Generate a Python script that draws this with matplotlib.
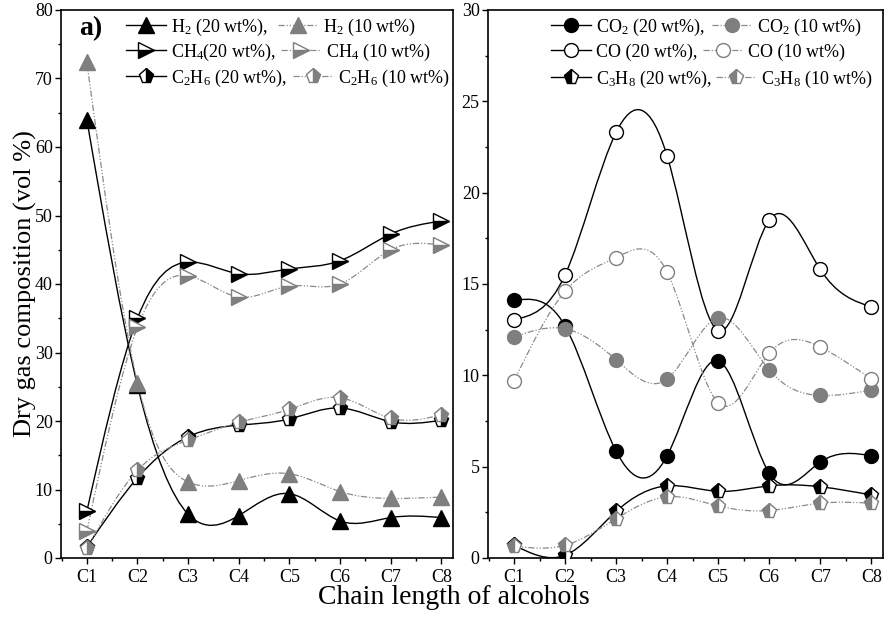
import matplotlib
matplotlib.use("Agg")
import matplotlib.pyplot as plt
import numpy as np
from matplotlib.legend import Legend
from matplotlib.lines import Line2D
from matplotlib.patches import PathPatch
from matplotlib.path import Path
from matplotlib.ticker import MultipleLocator

plt.rcParams["font.family"] = ["Liberation Serif", "DejaVu Serif"]
plt.rcParams["mathtext.fontset"] = "custom"
plt.rcParams["mathtext.rm"] = "Liberation Serif"
plt.rcParams["mathtext.it"] = "Liberation Serif:italic"
plt.rcParams["mathtext.bf"] = "Liberation Serif:bold"

# --- data (vol %) ---
alcohols = ["C1", "C2", "C3", "C4", "C5", "C6", "C7", "C8"]
chain = [1, 2, 3, 4, 5, 6, 7, 8]

h2_20 = [64.0, 25.2, 6.4, 6.2, 9.4, 5.4, 5.9, 5.9]
h2_10 = [72.4, 25.6, 11.1, 11.3, 12.3, 9.7, 8.7, 8.9]
ch4_20 = [6.8, 35.0, 43.2, 41.5, 42.2, 43.4, 47.3, 49.2]
ch4_10 = [3.9, 33.7, 41.2, 38.1, 39.7, 40.0, 45.0, 45.7]
c2h6_20 = [1.6, 11.7, 17.7, 19.4, 20.3, 21.9, 19.9, 20.1]
c2h6_10 = [1.4, 12.8, 17.2, 19.8, 21.7, 23.4, 20.4, 20.9]

co2_20 = [14.1, 12.7, 5.85, 5.6, 10.8, 4.65, 5.25, 5.6]
co2_10 = [12.1, 12.55, 10.85, 9.8, 13.15, 10.3, 8.9, 9.2]
co_20 = [13.05, 15.5, 23.3, 22.0, 12.45, 18.5, 15.8, 13.75]
co_10 = [9.7, 14.6, 16.45, 15.65, 8.5, 11.2, 11.55, 9.8]
c3h8_20 = [0.7, 0.15, 2.55, 3.95, 3.65, 3.95, 3.9, 3.45]
c3h8_10 = [0.65, 0.7, 2.15, 3.35, 2.85, 2.6, 3.0, 3.0]

GRAY = "#7f7f7f"
LINE_GRAY = "#8a8a8a"
DASH_DOT_DOT = (0, (5, 1.5, 1, 1.5, 1, 1.5))


def spline_path(x, y):
    """natural cubic spline through the points, as bezier segments (unit spacing)"""
    x = np.asarray(x, dtype=float)
    y = np.asarray(y, dtype=float)
    n = len(y)
    A = np.zeros((n, n))
    b = np.zeros(n)
    A[0, 0] = A[-1, -1] = 1.0
    for i in range(1, n - 1):
        A[i, i - 1:i + 2] = [1.0, 4.0, 1.0]
        b[i] = 6.0 * (y[i + 1] - 2 * y[i] + y[i - 1])
    m = np.linalg.solve(A, b)
    d = np.empty(n)
    d[:-1] = np.diff(y) - (2 * m[:-1] + m[1:]) / 6.0
    d[-1] = y[-1] - y[-2] + (m[-2] + 2 * m[-1]) / 6.0
    verts = [(x[0], y[0])]
    codes = [Path.MOVETO]
    for i in range(n - 1):
        verts += [(x[i] + 1 / 3, y[i] + d[i] / 3),
                  (x[i + 1] - 1 / 3, y[i + 1] - d[i + 1] / 3),
                  (x[i + 1], y[i + 1])]
        codes += [Path.CURVE4] * 3
    return Path(verts, codes)


def draw(ax, y, marker, fill, dark, ms=10, open_face=False):
    col = "black" if dark else GRAY
    lcol = "black" if dark else LINE_GRAY
    ls = "-" if dark else DASH_DOT_DOT
    lw = 1.0 if dark else 0.9
    ax.add_patch(PathPatch(spline_path(chain, y), fill=False, edgecolor=lcol,
                           lw=lw, ls=ls, zorder=2))
    style = dict(marker=marker, ms=ms, mec=col, mew=1.0)
    if open_face:
        style.update(mfc="white")
    else:
        style.update(fillstyle=fill, mfc=col, mfcalt="white")
    ax.plot(chain, y, ls="none", zorder=3, **style)
    return Line2D([], [], color=lcol, ls=ls, lw=lw, **style)


def row_legends(ax, handles, labels, x0, rows_y, gaps):
    # one legend per row, so that the second entry follows its own label
    for i, (yy, gap) in enumerate(zip(rows_y, gaps)):
        leg = Legend(ax, [handles[i], handles[i + 3]], [labels[i], labels[i + 3]],
                     ncol=2, loc="center left", bbox_to_anchor=(x0, yy),
                     frameon=False, fontsize=13, handlelength=2.2,
                     handletextpad=0.3, columnspacing=gap, borderpad=0,
                     borderaxespad=0)
        ax.add_artist(leg)


fig = plt.figure(figsize=(8.84, 6.19), dpi=100)
ax1 = fig.add_axes([61 / 884, 1 - 558 / 619, 392 / 884, 548 / 619])
ax2 = fig.add_axes([488 / 884, 1 - 558 / 619, 395 / 884, 548 / 619])

# --- left panel ---
hl = [
    draw(ax1, h2_20, "^", "full", True, ms=11),
    draw(ax1, ch4_20, ">", "bottom", True, ms=11),
    draw(ax1, c2h6_20, "p", "right", True, ms=11),
    draw(ax1, h2_10, "^", "full", False, ms=11),
    draw(ax1, ch4_10, ">", "bottom", False, ms=11),
    draw(ax1, c2h6_10, "p", "right", False, ms=11),
]
labels1 = ["H$_2$ (20 wt%),", "CH$_4$(20 wt%),", "C$_2$H$_6$ (20 wt%),",
           "H$_2$ (10 wt%)", "CH$_4$ (10 wt%)", "C$_2$H$_6$ (10 wt%)"]
row_legends(ax1, hl, labels1, (126 - 61) / 392,
            [1 - 17 / 548, 1 - 42 / 548, 1 - 68 / 548], [0.55, 0.3, 0.3])
ax1.text(0.047, 0.988, "a)", transform=ax1.transAxes, fontsize=20,
         fontweight="bold", va="top", ha="left")
ax1.set_ylim(0, 80)
ax1.yaxis.set_major_locator(MultipleLocator(10))
ax1.yaxis.set_minor_locator(MultipleLocator(5))

# --- right panel ---
hr = [
    draw(ax2, co2_20, "o", "full", True, ms=10),
    draw(ax2, co_20, "o", "full", True, ms=10, open_face=True),
    draw(ax2, c3h8_20, "p", "left", True, ms=11),
    draw(ax2, co2_10, "o", "full", False, ms=10),
    draw(ax2, co_10, "o", "full", False, ms=10, open_face=True),
    draw(ax2, c3h8_10, "p", "left", False, ms=11),
]
labels2 = ["CO$_2$ (20 wt%),", "CO (20 wt%),", "C$_3$H$_8$ (20 wt%),",
           "CO$_2$ (10 wt%)", "CO (10 wt%)", "C$_3$H$_8$ (10 wt%)"]
row_legends(ax2, hr, labels2, (551 - 488) / 395,
            [1 - 17 / 548, 1 - 42 / 548, 1 - 69 / 548], [0.35, 0.3, 0.2])
ax2.set_ylim(0, 30)
ax2.yaxis.set_major_locator(MultipleLocator(5))
ax2.yaxis.set_minor_locator(MultipleLocator(2.5))

for ax in (ax1, ax2):
    ax.set_xlim(0.49, 8.23)
    ax.set_xticks(chain)
    ax.set_xticklabels(alcohols)
    ax.xaxis.set_minor_locator(MultipleLocator(0.5))
    ax.tick_params(which="major", direction="out", length=4, width=1,
                   labelsize=13, pad=2)
    ax.tick_params(axis="x", which="major", pad=4)
    ax.tick_params(which="minor", direction="out", length=2.5, width=1)
    for s in ax.spines.values():
        s.set_linewidth(1.2)

fig.text(25 / 884, 1 - 284 / 619, "Dry gas composition (vol %)", rotation=90,
         fontsize=19, ha="center", va="center")
fig.text(454 / 884, 1 - 597 / 619, "Chain length of alcohols", fontsize=20,
         ha="center", va="center")

fig.savefig("out.png", dpi=100)
